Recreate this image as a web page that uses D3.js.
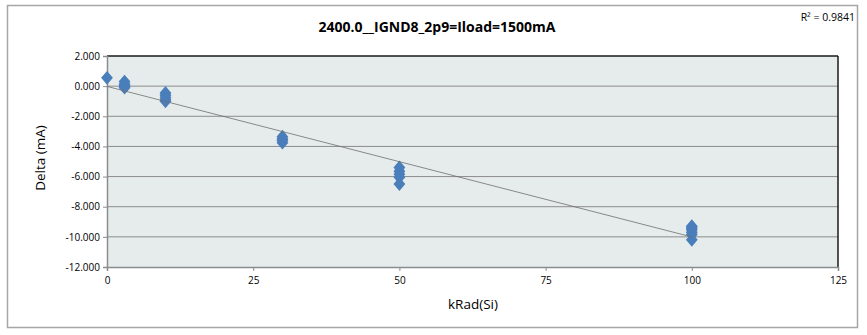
<!DOCTYPE html>
<html><head><meta charset="utf-8">
<script src="https://cdn.jsdelivr.net/npm/d3@7"></script>
<style>body{margin:0;background:#fff;} svg{display:block;}</style>
</head><body>
<script>
const xValues = [0, 3, 3, 3, 3, 3, 10, 10, 10, 10, 10, 30, 30, 30, 30, 50, 50, 50, 50, 50, 100, 100, 100, 100, 100, 100, 100];
const yValues = [0.55, 0.3, 0.15, 0.05, -0.05, -0.1, -0.45, -0.6, -0.75, -0.9, -1.0, -3.35, -3.5, -3.6, -3.75, -5.4, -5.65, -5.85, -6.05, -6.5, -9.3, -9.35, -9.45, -9.55, -9.7, -9.85, -10.2];
const xTicks = [0, 25, 50, 75, 100, 125];
const yTicks = [2, 0, -2, -4, -6, -8, -10, -12];
const title = "2400.0__IGND8_2p9=Iload=1500mA";
const r2Label = "R² = 0.9841";

const W = 867, H = 335;
const svg = d3.select("body").append("svg").attr("width", W).attr("height", H);
const font = "'Open Sans', 'Liberation Sans', sans-serif";

svg.append("rect").attr("x", 7.5).attr("y", 5.5).attr("width", 850).attr("height", 322)
  .attr("fill", "#fff").attr("stroke", "#a6a6a6").attr("stroke-width", 1.5);

const x = d3.scaleLinear().domain([0, 125]).range([107, 838]);
const y = d3.scaleLinear().domain([-12, 2]).range([267, 56]);

svg.append("rect").attr("x", x(0)).attr("y", y(2)).attr("width", x(125) - x(0)).attr("height", y(-12) - y(2))
  .attr("fill", "#e6ecec");

svg.append("g").selectAll("line").data(yTicks.filter(d => d !== -12 && d !== 2)).join("line")
  .attr("x1", x(0)).attr("x2", x(125)).attr("y1", d => y(d)).attr("y2", d => y(d))
  .attr("stroke", "#8c8c8c").attr("stroke-width", 1);

svg.append("line").attr("x1", x(0)).attr("x2", x(125)).attr("y1", y(2)).attr("y2", y(2)).attr("stroke", "#1a1a1a").attr("stroke-width", 1.5);
svg.append("line").attr("x1", x(125)).attr("x2", x(125)).attr("y1", y(2)).attr("y2", y(-12)).attr("stroke", "#1a1a1a").attr("stroke-width", 1.5);

const xAxis = d3.axisBottom(x).tickValues(xTicks).tickSize(4).tickPadding(6).tickFormat(d3.format("d"));
const gx = svg.append("g").attr("transform", `translate(0,${y(-12)})`).call(xAxis);
const yAxis = d3.axisLeft(y).tickValues(yTicks).tickSize(4).tickPadding(3).tickFormat(d3.format(".3f"));
const gy = svg.append("g").attr("transform", `translate(${x(0)},0)`).call(yAxis);
[gx, gy].forEach(g => {
  g.select(".domain").attr("stroke", "#8c8c8c").attr("stroke-width", 1.5);
  g.selectAll(".tick line").attr("stroke", "#8c8c8c");
  g.selectAll("text").attr("font-family", font).attr("font-size", 10).attr("fill", "#000");
});
gy.selectAll("text").text(d => d3.format(".3f")(d).replace("−", "-"));

const n = xValues.length;
const mx = d3.mean(xValues), my = d3.mean(yValues);
let sxy = 0, sxx = 0;
for (let i = 0; i < n; i++) { sxy += (xValues[i] - mx) * (yValues[i] - my); sxx += (xValues[i] - mx) ** 2; }
const slope = sxy / sxx, icpt = my - slope * mx;
const xr = d3.extent(xValues);

const wideDiamond = {
  draw(ctx, size) {
    const h = Math.sqrt(size) * 0.55, w = h * 0.85;
    ctx.moveTo(0, -h); ctx.lineTo(w, 0); ctx.lineTo(0, h); ctx.lineTo(-w, 0); ctx.closePath();
  }
};
const diamond = d3.symbol().type(wideDiamond).size(160);
svg.append("g").selectAll("path").data(xValues.map((d, i) => [d, yValues[i]])).join("path")
  .attr("d", diamond)
  .attr("transform", d => `translate(${x(d[0])},${y(d[1])})`)
  .attr("fill", "#4a7ebb");

svg.append("line").attr("x1", x(xr[0])).attr("x2", x(xr[1]))
  .attr("y1", y(icpt + slope * xr[0])).attr("y2", y(icpt + slope * xr[1]))
  .attr("stroke", "#6e6e6e").attr("stroke-width", 0.8);

svg.append("text").attr("x", 437).attr("y", 32).attr("text-anchor", "middle")
  .attr("font-family", font).attr("font-weight", "bold").attr("font-size", 14).text(title);
svg.append("text").attr("x", 855).attr("y", 21).attr("text-anchor", "end")
  .attr("font-family", font).attr("font-size", 10.5).text(r2Label);
svg.append("text").attr("x", 473).attr("y", 309).attr("text-anchor", "middle")
  .attr("font-family", font).attr("font-size", 13.5).text("kRad(Si)");
svg.append("text").attr("transform", "translate(45,158) rotate(-90)").attr("text-anchor", "middle")
  .attr("font-family", font).attr("font-size", 13.5).text("Delta (mA)");
</script>
</body></html>
